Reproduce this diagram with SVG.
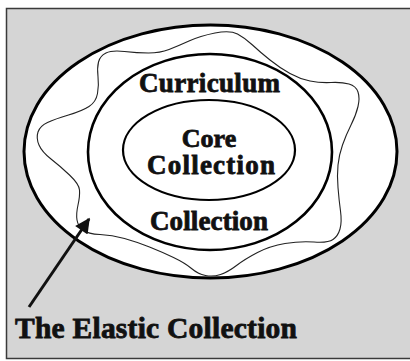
<svg xmlns="http://www.w3.org/2000/svg" width="410" height="361" viewBox="0 0 410 361">
  <style>
    .ring { fill: #ffffff; stroke: #000000; }
    .label { font-family: "Liberation Serif", "Times New Roman", serif; font-weight: bold; fill: #111111; stroke: #111111; stroke-width: 0.8; text-anchor: middle; }
    .edge { fill: none; stroke: #111111; }
  </style>
  <defs>
    <marker id="arrowhead" viewBox="0 0 10 10" refX="9" refY="5" markerWidth="6" markerHeight="5" markerUnits="strokeWidth" orient="auto">
      <path d="M0,0 L10,5 L0,10 Z" fill="#111111"/>
    </marker>
  </defs>

  <!-- panel -->
  <rect x="6.5" y="8.5" width="410" height="350" fill="#d5d5d5" stroke="#3a3a3a" stroke-width="1.5"/>

  <!-- outer ring -->
  <g id="outer">
    <ellipse class="ring" cx="210.5" cy="151.5" rx="186.5" ry="126.5" stroke-width="3"/>
  </g>

  <!-- elastic boundary -->
  <g id="elastic">
    <path fill="none" stroke="#222222" stroke-width="1.1" d="M215,33 Q230,30 237.5,34 Q245,38 252.5,45 Q260,52 270,60 Q280,68 290,73.5 Q300,79 310,81 Q320,83 331,82.5 Q342,82 349,84 Q356,86 358,92 Q360,98 358,106.5 Q356,115 351,125 Q346,135 342.5,145 Q339,155 338,165 Q337,175 338,187.5 Q339,200 340.5,211 Q342,222 340,229 Q338,236 333,239.5 Q328,243 314,242 Q300,241 285,243.5 Q270,246 257.5,252.5 Q245,259 236.5,265.5 Q228,272 220.5,274.5 Q213,277 205.5,275.5 Q198,274 191.5,268.5 Q185,263 173.5,257.5 Q162,252 149.5,247 Q137,242 124.5,238.5 Q112,235 100,234.5 Q88,234 83,230 Q78,226 77,220 Q76,214 78,205 Q80,196 79.5,190 Q79,184 69.5,175 Q60,166 51,159 Q42,152 39,145 Q36,138 38,132 Q40,126 47.5,122.5 Q55,119 68.5,115 Q82,111 89,106.5 Q96,102 97.5,93.5 Q99,85 98,76.5 Q97,68 98.5,62 Q100,56 106,53 Q112,50 124.5,51.5 Q137,53 148.5,53 Q160,53 169,49.5 Q178,46 189,41 Q200,36 215,33 Z"/>
  </g>

  <!-- curriculum collection ring -->
  <g id="curriculum">
    <ellipse class="ring" cx="210" cy="152" rx="122" ry="98" stroke-width="2.6"/>
    <text class="label" x="209.5" y="92" font-size="27" textLength="141" lengthAdjust="spacing">Curriculum</text>
    <text class="label" x="209" y="230" font-size="27" textLength="118" lengthAdjust="spacing">Collection</text>
  </g>

  <!-- core collection -->
  <g id="core">
    <ellipse class="ring" cx="209" cy="150" rx="86" ry="50" stroke-width="2.2"/>
    <text class="label" x="209" y="147" font-size="26">Core</text>
    <text class="label" x="211" y="174" font-size="27" textLength="128" lengthAdjust="spacing">Collection</text>
  </g>

  <!-- caption -->
  <g id="caption">
    <text class="label" x="156" y="338" font-size="29.5" textLength="282" lengthAdjust="spacing">The Elastic Collection</text>
  </g>

  <!-- connectors -->
  <g id="connectors">
    <line class="edge" x1="29" y1="307" x2="89" y2="219" stroke-width="3" marker-end="url(#arrowhead)"/>
  </g>
</svg>
